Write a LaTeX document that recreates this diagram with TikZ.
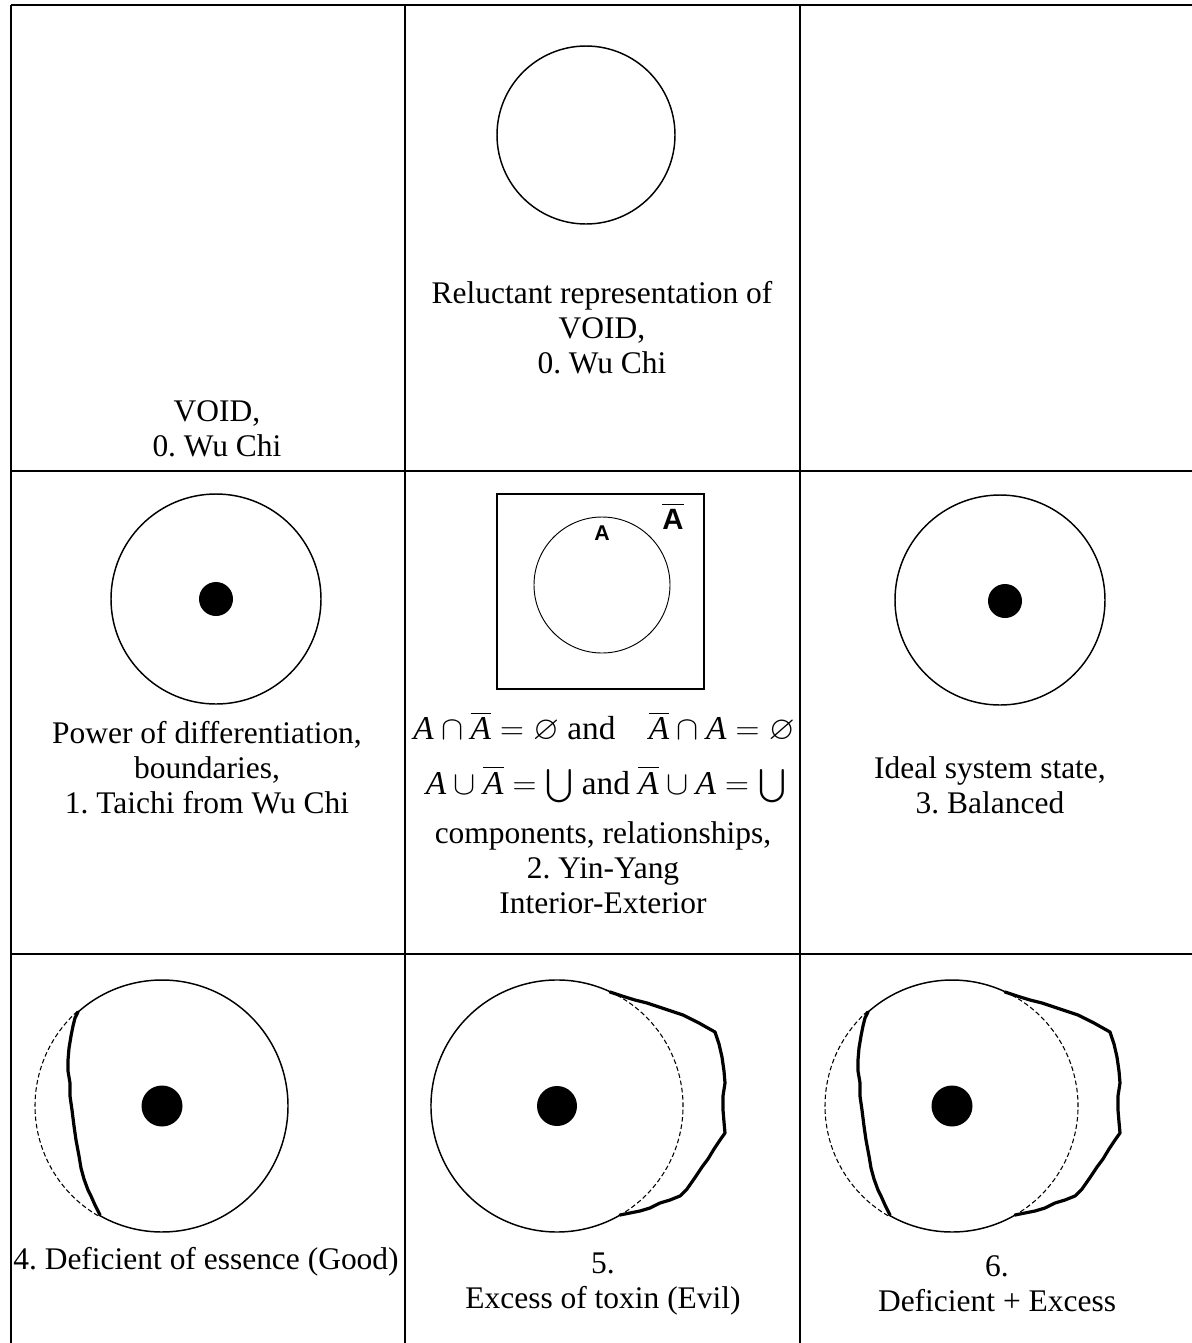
\documentclass[tikz,border=0pt]{standalone}
\usepackage{amssymb}
\usepackage{fontspec}
\setmainfont{Liberation Serif}
\newfontfamily\vennfont{Liberation Sans}
\newcommand\Ait{\textit{A}}
\newcommand\Abar{\overline{\textit{A}}}
\frenchspacing
\begin{document}
\begin{tikzpicture}[x=0.75pt,y=-0.75pt,
  gridline/.style={line width=1.5pt},
  ring/.style={line width=1.1pt},
  thinring/.style={line width=0.7pt},
  dashring/.style={line width=0.8pt,dash pattern=on 3.5pt off 2pt},
  edge/.style={line width=2.4pt,line join=round,line cap=round},
  lbl/.style={align=center,inner sep=0pt,font=\fontsize{23.6}{26.25}\selectfont},
  mathlbl/.style={inner sep=0pt,font=\fontsize{25}{30}\selectfont},
  deficit/.pic={
    \draw[edge] (-84,-94) -- (-87,-88) -- (-89,-80) -- (-91,-70) -- (-93,-58) -- (-94,-46) -- (-94,-35) -- (-92,-23) -- (-92,-10) -- (-90,4) -- (-88,20) -- (-86,34) -- (-83,50) -- (-81,62) -- (-78,73) -- (-74,84) -- (-71,90) -- (-67,99) -- (-62,109);
  },
  excess/.pic={
    \draw[edge] (53,-114) -- (65,-110) -- (78,-106) -- (90,-103) -- (108,-97) -- (126,-91) -- (142,-83) -- (158,-74) -- (162,-62) -- (165,-49) -- (167,-35) -- (168,-23) -- (166,-10) -- (166,4) -- (167,16) -- (168,27) -- (163,34) -- (157,43) -- (151,53) -- (145,61) -- (137,73) -- (130,83) -- (123,90) -- (113,94) -- (103,97) -- (93,102) -- (83,105) -- (73,107) -- (63,109);
  }]
\useasboundingbox (0,0) rectangle (1192,1343);

% grid
\draw[gridline] (11,4.5) -- (1192,4.5);
\draw[gridline] (11,4.5) -- (11,1343);
\draw[gridline] (405,4.5) -- (405,1343);
\draw[gridline] (800,4.5) -- (800,1343);
\draw[gridline] (11,471) -- (1192,471);
\draw[gridline] (11,954) -- (1192,954);

% row 1
\node[lbl] (t0) at (217,428.5) {VOID,\\0. Wu Chi};
\coordinate (c1) at (586,135);
\draw[ring] (c1) circle[radius=89];
\node[lbl] (t1) at (602,328) {Reluctant representation of\\VOID,\\0. Wu Chi};

% row 2 left
\coordinate (c2) at (216,599);
\draw[ring] (c2) circle[radius=105];
\fill (c2) circle[radius=17];
\node[lbl] (t2) at (207,768) {Power of differentiation,\\boundaries,\\1. Taichi from Wu Chi};

% row 2 middle (Venn)
\draw[line width=1.4pt] (497,494) rectangle (704,689);
\coordinate (cv) at (602,585);
\draw[thinring] (cv) circle[radius=68];
\node[inner sep=0pt,font=\vennfont\bfseries\fontsize{16}{16}\selectfont] (la) at (602,533) {A};
\node[inner sep=0pt,font=\vennfont\bfseries\fontsize{22}{22}\selectfont] (lab) at (673,516) {$\overline{\hbox{A}}$};
\node[mathlbl] (m1) at (604,727) {$\Ait\cap\Abar=\varnothing$ and\quad$\Abar\cap \Ait=\varnothing$};
\node[mathlbl] (m2) at (606,784) {$\Ait\cup\Abar=\bigcup$ and $\Abar\cup \Ait=\bigcup$};
\node[lbl] (t3) at (603,868) {components, relationships,\\2. Yin-Yang\\Interior-Exterior};

% row 2 right
\coordinate (c3) at (1000,600);
\draw[ring] (c3) circle[radius=105];
\fill (1005,601) circle[radius=17];
\node[lbl] (t4) at (990,785) {Ideal system state,\\3. Balanced};

% row 3 left: deficient
\coordinate (c4) at (162,1106);
\draw[ring] (c4) ++(-131.8:126) arc[start angle=-131.8,end angle=119.6,radius=126];
\draw[dashring] (c4) ++(-131.8:127) arc[start angle=-131.8,end angle=-240.4,radius=127];
\pic at (c4) {deficit};
\fill (c4) circle[radius=20.5];
\node[lbl] (t5) at (206,1262) {4. Deficient of essence (Good)};

% row 3 middle: excess
\coordinate (c5) at (557,1106);
\draw[ring] (c5) ++(-65:126) arc[start angle=-65,end angle=-300,radius=126];
\draw[dashring] (c5) ++(-65:126) arc[start angle=-65,end angle=60,radius=126];
\pic at (c5) {excess};
\fill (c5) circle[radius=20];
\node[lbl] (t6) at (603,1284) {5.\\Excess of toxin (Evil)};

% row 3 right: deficient + excess
\coordinate (c6) at (952,1106);
\draw[ring] (c6) ++(-131.8:126) arc[start angle=-131.8,end angle=-65,radius=126];
\draw[ring] (c6) ++(119.6:126) arc[start angle=119.6,end angle=60,radius=126];
\draw[dashring] (c6) ++(-131.8:127) arc[start angle=-131.8,end angle=-240.4,radius=127];
\draw[dashring] (c6) ++(-65:126) arc[start angle=-65,end angle=60,radius=126];
\pic at (c6) {deficit};
\pic at (c6) {excess};
\fill (c6) circle[radius=20.5];
\node[lbl] (t7) at (997,1284) {6.\\Deficient + Excess};
\end{tikzpicture}
\end{document}
